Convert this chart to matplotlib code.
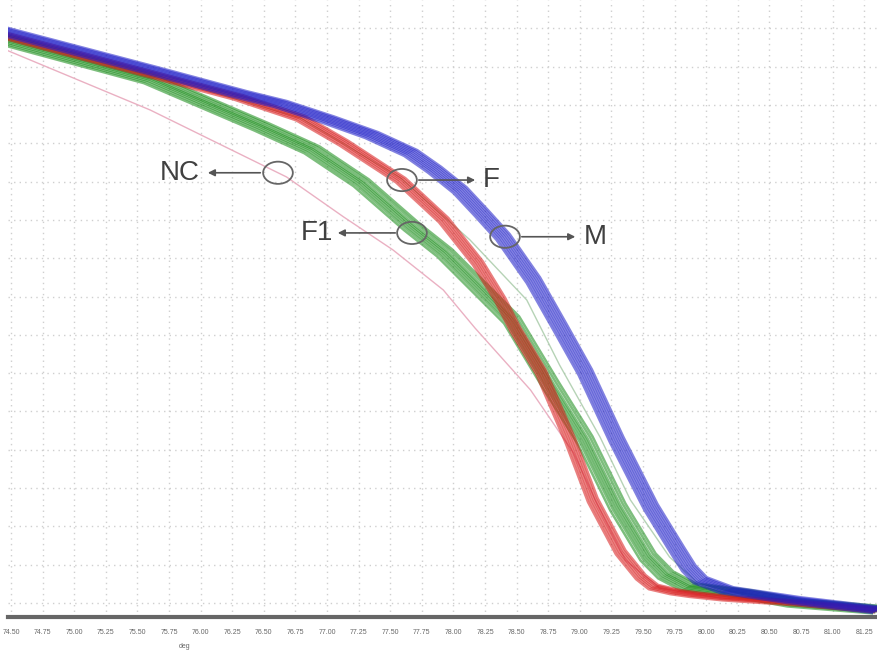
import numpy as np
import matplotlib
matplotlib.use("Agg")
import matplotlib.pyplot as plt
from matplotlib.patches import Ellipse

plt.rcParams['font.family'] = ['Liberation Sans', 'DejaVu Sans']

# temperatura (grados) y fluorescencia normalizada (unidades de rejilla)
m_temp = [74.40, 75.60, 76.31, 76.63, 77.00, 77.35, 77.66, 77.85, 78.05, 78.22,
          78.39, 78.63, 78.84, 79.04, 79.29, 79.56, 79.77, 79.86, 79.95, 80.16,
          80.69, 81.36]
m_fluo = [14.96, 13.92, 13.29, 13.03, 12.63, 12.22, 11.75, 11.31, 10.78, 10.18,
          9.56, 8.43, 7.21, 6.03, 4.26, 2.51, 1.38, 0.91, 0.60, 0.34,
          0.08, -0.18]

f_temp = [74.40, 75.60, 76.30, 76.79, 77.13, 77.58, 77.92, 78.19, 78.37, 78.49,
          78.69, 78.92, 79.10, 79.32, 79.48, 79.58, 79.75, 79.90, 80.16, 80.74,
          81.36]
f_fluo = [14.86, 13.81, 13.20, 12.66, 12.01, 11.04, 10.00, 8.88, 7.91, 7.13,
          6.03, 4.26, 2.69, 1.33, 0.68, 0.42, 0.29, 0.22, 0.13, 0.00,
          -0.18]

f1_temp = [74.40, 75.60, 76.47, 76.87, 77.26, 77.66, 77.92, 78.19, 78.45,
           78.76, 79.03, 79.29, 79.53, 79.67, 79.85, 80.29, 80.69, 81.36]
f1_fluo = [14.73, 13.66, 12.43, 11.83, 10.97, 9.82, 9.14, 8.25, 7.39,
           5.69, 4.26, 2.51, 1.20, 0.73, 0.42, 0.24, 0.00, -0.18]

nc_temp = [74.40, 75.60, 76.68, 77.13, 77.52, 77.92, 78.17, 78.61, 78.95, 79.14,
           79.36, 79.63, 80.11, 81.36]
nc_fluo = [14.52, 12.87, 11.12, 10.08, 9.22, 8.17, 7.18, 5.56, 3.92, 2.56,
           1.12, 0.39, 0.13, -0.18]

extra_temp = [74.40, 75.60, 76.79, 77.58, 78.13, 78.58, 78.84, 79.16, 79.40, 79.71,
              79.95, 80.35, 81.36]
extra_fluo = [14.83, 13.81, 12.66, 11.10, 9.48, 7.91, 6.21, 4.33, 2.69, 1.20,
              0.47, 0.13, -0.18]

# desplazamientos de las replicas (grados, fluorescencia)
m_dx = [-0.05, -0.035, -0.02, -0.005, 0.01, 0.025, 0.04, 0.055]
m_dy = [-0.08, -0.05, -0.03, -0.01, 0.01, 0.03, 0.05, 0.07]
f_dx = [-0.035, -0.02, -0.005, 0.01, 0.025, 0.04]
f_dy = [-0.06, -0.03, -0.01, 0.01, 0.03, 0.05]
f1_dx = [-0.05, -0.03, -0.015, 0.00, 0.015, 0.03, 0.05, 0.07]
f1_dy = [-0.09, -0.06, -0.03, 0.00, 0.02, 0.04, 0.07, 0.09]

xticks = np.arange(74.50, 81.26, 0.25)

fig = plt.figure(figsize=(8.78, 6.55), dpi=100)
ax = fig.add_axes([8 / 878, 38 / 655, 870 / 878, 617 / 655])
ax.set_xlim(74.476, 81.359)
ax.set_ylim(-0.366, 15.74)

# replicas de cada grupo
for dx, dy in zip(f1_dx, f1_dy):
    ax.plot(np.array(f1_temp) + dx, np.array(f1_fluo) + dy, color="#138a13", lw=1.8, alpha=0.55)
ax.plot(extra_temp, extra_fluo, color="#a4c8a4", lw=1.0, alpha=0.8)
ax.plot(nc_temp, nc_fluo, color="#e8a8bc", lw=1.0, alpha=0.9)
for dx, dy in zip(f_dx, f_dy):
    ax.plot(np.array(f_temp) + dx, np.array(f_fluo) + dy, color="#d81818", lw=1.8, alpha=0.55)
for dx, dy in zip(m_dx, m_dy):
    ax.plot(np.array(m_temp) + dx, np.array(m_fluo) + dy, color="#1c1cc8", lw=1.8, alpha=0.55)

# rejilla punteada
ax.set_xticks(xticks)
ax.set_xticklabels([f"{t:.2f}" for t in xticks], fontsize=5, color="#666")
ax.set_yticks(np.arange(0, 16))
ax.set_yticklabels([])
ax.tick_params(axis="x", length=0, pad=9)
ax.tick_params(axis="y", length=0)
ax.grid(True, linestyle=(0, (1, 3)), color="#cfcfcf", lw=1.0)
for s in ["top", "right", "left"]:
    ax.spines[s].set_visible(False)
ax.spines["bottom"].set_color("#666666")
ax.spines["bottom"].set_linewidth(3)

# etiquetas con elipses y flechas
gray = "#555555"
marcas = [
    # (texto, centro T, centro F, inicio flecha, fin flecha, x texto, alineacion)
    ("NC", 76.612, 11.23, 76.494, 76.035, 75.995, "right"),
    ("F", 77.593, 11.04, 77.704, 78.194, 78.234, "left"),
    ("F1", 77.672, 9.66, 77.562, 77.063, 77.047, "right"),
    ("M", 78.408, 9.56, 78.519, 78.986, 79.033, "left"),
]
for txt, cx, cy, a0, a1, tx, ha in marcas:
    ax.add_patch(Ellipse((cx, cy), 0.235, 0.58, fill=False, ec="#666666", lw=1.3, zorder=5))
    ax.annotate("", xy=(a1, cy), xytext=(a0, cy),
                arrowprops=dict(arrowstyle="-|>", color=gray, lw=1.2, mutation_scale=10),
                zorder=5)
    ax.text(tx, cy, txt, ha=ha, va="center", fontsize=20, color="#404040", zorder=5)

fig.text(185 / 878, 1 - 647 / 655, "deg", fontsize=5, color="#666", ha="center", va="center")

fig.savefig("out.png", dpi=100)
